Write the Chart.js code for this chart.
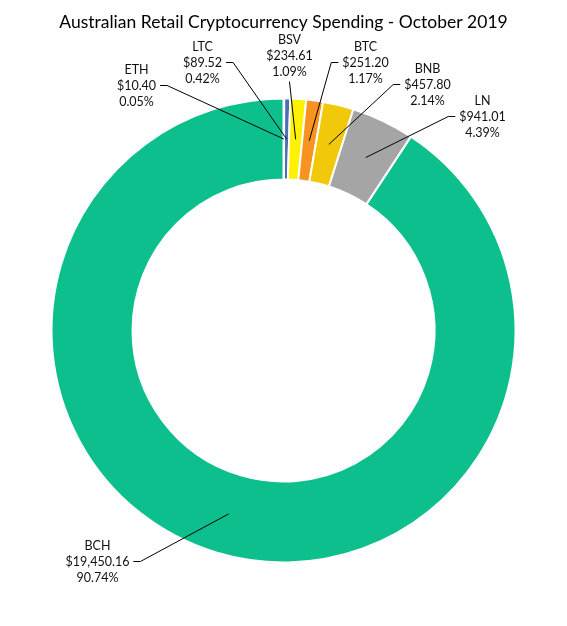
<!DOCTYPE html>
<html lang="en">
<head>
<meta charset="UTF-8">
<title>Australian Retail Cryptocurrency Spending</title>
<script src="https://cdn.jsdelivr.net/npm/chart.js"></script>
<style>
  html, body { margin: 0; padding: 0; background: #fff; }
</style>
</head>
<body>
<canvas id="donut" width="567" height="626"></canvas>
<script>
// October 2019 spend per coin (AUD)
const coins = ['ETH', 'LTC', 'BSV', 'BTC', 'BNB', 'LN', 'BCH'];
const spend = [10.40, 89.52, 234.61, 251.20, 457.80, 941.01, 19450.16];
const colours = ['#1F3864', '#4A6FB8', '#FFF200', '#F7931E', '#F2C80A', '#A5A5A5', '#0DBF8C'];

// label block centre relative to ring centre, and the side its leader leaves from
const labelSpots = [
    { dx: -147, dy: -245, side: 'right' },
    { dx: -81, dy: -268, side: 'right' },
    { dx: 6, dy: -275, side: 'bottom' },
    { dx: 82, dy: -268, side: 'left' },
    { dx: 144, dy: -246, side: 'left' },
    { dx: 199, dy: -214, side: 'left' },
    { dx: -186, dy: 231, side: 'right' }
];

const total = spend.reduce((a, b) => a + b, 0);
const money = v => '$' + v.toLocaleString('en-US', { minimumFractionDigits: 2, maximumFractionDigits: 2 });
const pct = v => (v / total * 100).toFixed(2) + '%';

const labelFont = '12.5px Lato';
const lineGap = 16;

const leaderLabels = {
    id: 'leaderLabels',
    afterDatasetsDraw(chart) {
        const ctx = chart.ctx;
        const arcs = chart.getDatasetMeta(0).data;
        const cx = arcs[0].x, cy = arcs[0].y;
        ctx.save();
        ctx.font = labelFont;
        ctx.textAlign = 'center';
        ctx.textBaseline = 'middle';
        ctx.strokeStyle = '#000';
        ctx.lineWidth = 1;
        arcs.forEach((arc, i) => {
            const spot = labelSpots[i];
            const tx = cx + spot.dx, ty = cy + spot.dy;
            const lines = [coins[i], money(spend[i]), pct(spend[i])];
            ctx.fillStyle = '#111';
            lines.forEach((t, k) => ctx.fillText(t, tx, ty + (k - 1) * lineGap));

            const half = ctx.measureText(lines[1]).width / 2;
            const tip = arc.tooltipPosition();
            ctx.beginPath();
            if (spot.side === 'bottom') {
                ctx.moveTo(tx, ty + lineGap + 10);
            } else {
                const dir = spot.side === 'right' ? 1 : -1;
                const sx = tx + dir * (half + 4);
                ctx.moveTo(sx, ty);
                ctx.lineTo(sx + dir * 7, ty);
            }
            ctx.lineTo(tip.x, tip.y);
            ctx.stroke();
        });
        ctx.restore();
    }
};

const ctx = document.getElementById('donut').getContext('2d');
new Chart(ctx, {
    type: 'doughnut',
    data: {
        labels: coins,
        datasets: [{
            data: spend,
            backgroundColor: colours,
            borderColor: '#fff',
            borderWidth: 2
        }]
    },
    options: {
        responsive: false,
        animation: false,
        radius: 232,
        cutout: 150,
        layout: { padding: { left: 52, right: 52, bottom: 64 } },
        plugins: {
            legend: { display: false },
            tooltip: { enabled: false },
            title: {
                display: true,
                text: 'Australian Retail Cryptocurrency Spending - October 2019',
                color: '#000',
                font: { family: 'Lato', size: 17.5, weight: 'normal' },
                padding: { top: 12, bottom: 66 }
            }
        }
    },
    plugins: [leaderLabels]
});
</script>
</body>
</html>
